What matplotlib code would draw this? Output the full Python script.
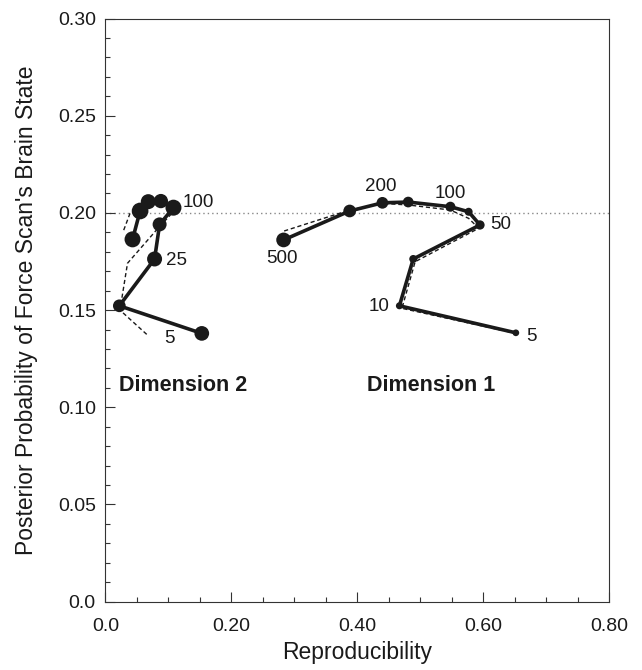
import matplotlib
matplotlib.use("Agg")
import matplotlib.pyplot as plt
from matplotlib.ticker import MultipleLocator, FixedLocator

plt.rcParams['font.family'] = ['Liberation Sans', 'DejaVu Sans']

# sample sizes along each curve: 5, 10, 25, 50, ... 500
dim1_x = [0.652, 0.467, 0.489, 0.595, 0.577, 0.548, 0.481, 0.440, 0.388, 0.283]
dim1_y = [0.1383, 0.1522, 0.1763, 0.1938, 0.2006, 0.2032, 0.2056, 0.2052, 0.2010, 0.1861]
dim1_dash_x = [0.652, 0.471, 0.492, 0.593, 0.577, 0.548, 0.481, 0.440, 0.388, 0.280]
dim1_dash_y = [0.1380, 0.1509, 0.1749, 0.1921, 0.1972, 0.2015, 0.2041, 0.2049, 0.2015, 0.1903]

dim2_x = [0.153, 0.022, 0.078, 0.086, 0.108, 0.088, 0.068, 0.055, 0.043]
dim2_y = [0.1380, 0.1522, 0.1763, 0.1941, 0.2027, 0.2061, 0.2058, 0.2010, 0.1864]
dim2_dash_x = [0.0655, 0.023, 0.035, 0.081, 0.113, 0.090, 0.068, 0.039, 0.028]
dim2_dash_y = [0.1375, 0.1500, 0.1741, 0.1912, 0.2024, 0.2058, 0.2055, 0.1998, 0.1903]

# marker diameters (px) grow with sample size on dimension 1
dim1_size = [6.7, 7, 8, 9.3, 8, 10, 10.7, 11.7, 12.7, 14.7]
dim2_size = [14.7, 12.7, 15, 14, 16, 14.3, 15, 16.7, 16]

dim1_labels = [("5", 0.668, 0.1363, "left"), ("10", 0.452, 0.1517, "right"),
               ("50", 0.612, 0.1938, "left"), ("100", 0.548, 0.2101, "center"),
               ("200", 0.438, 0.2138, "center"), ("500", 0.280, 0.1766, "center")]
dim2_labels = [("5", 0.1015, 0.1355, "center"), ("25", 0.0957, 0.1754, "left"),
               ("100", 0.1227, 0.2054, "left")]

x_ticks = [0.0, 0.2, 0.4, 0.6, 0.8]
x_ticklabels = ["0.0", "0.20", "0.40", "0.60", "0.80"]
y_ticks = [0.0, 0.05, 0.10, 0.15, 0.20, 0.25, 0.30]
y_ticklabels = ["0.0", "0.05", "0.10", "0.15", "0.20", "0.25", "0.30"]

ink = "#1a1a1a"
px = 72 / 100  # points per pixel at dpi 100

fig = plt.figure(figsize=(6.42, 6.70), dpi=100)
ax = fig.add_axes([0.1643, 0.1022, 0.7843, 0.8700])

ax.axhline(0.2, color="#888888", linestyle=(0, (1, 2.2)), linewidth=1.0, zorder=1)

for xs, ys, dx, dy, sz in [(dim1_x, dim1_y, dim1_dash_x, dim1_dash_y, dim1_size),
                           (dim2_x, dim2_y, dim2_dash_x, dim2_dash_y, dim2_size)]:
    ax.plot(dx, dy, color=ink, linestyle=(0, (3, 2)), linewidth=1.0, zorder=2)
    ax.plot(xs, ys, color=ink, linewidth=2.6, zorder=3, solid_capstyle="round")
    ax.scatter(xs, ys, s=[(d * px) ** 2 for d in sz], color=ink, zorder=4, linewidths=0)

for txt, x, y, ha in dim1_labels + dim2_labels:
    ax.text(x, y, txt, fontsize=13.5, ha=ha, va="center", color=ink)

ax.text(0.1237, 0.1114, "Dimension 2", fontsize=15.5, fontweight="bold", ha="center", va="center", color=ink)
ax.text(0.5172, 0.1114, "Dimension 1", fontsize=15.5, fontweight="bold", ha="center", va="center", color=ink)

ax.set_xlim(0, 0.8)
ax.set_ylim(0, 0.30)
ax.xaxis.set_major_locator(FixedLocator(x_ticks))
ax.set_xticklabels(x_ticklabels)
ax.yaxis.set_major_locator(FixedLocator(y_ticks))
ax.set_yticklabels(y_ticklabels)
ax.xaxis.set_minor_locator(MultipleLocator(0.05))
ax.yaxis.set_minor_locator(MultipleLocator(0.01))
ax.tick_params(which="both", direction="in", colors="#333333", labelcolor=ink, labelsize=14, width=0.8)
ax.tick_params(which="major", length=7.5)
ax.tick_params(which="minor", length=3.8)
ax.tick_params(axis="x", which="major", pad=12)
ax.tick_params(axis="y", which="major", pad=7)
for sp in ax.spines.values():
    sp.set_linewidth(0.8)
    sp.set_color("#333333")

ax.set_xlabel("Reproducibility", fontsize=16.5, color=ink)
ax.set_ylabel("Posterior Probability of Force Scan's Brain State", fontsize=16.5, color=ink)
ax.xaxis.set_label_coords(0.5, -0.068)
ax.yaxis.set_label_coords(-0.135, 0.5)

fig.savefig("out.png", dpi=100)
